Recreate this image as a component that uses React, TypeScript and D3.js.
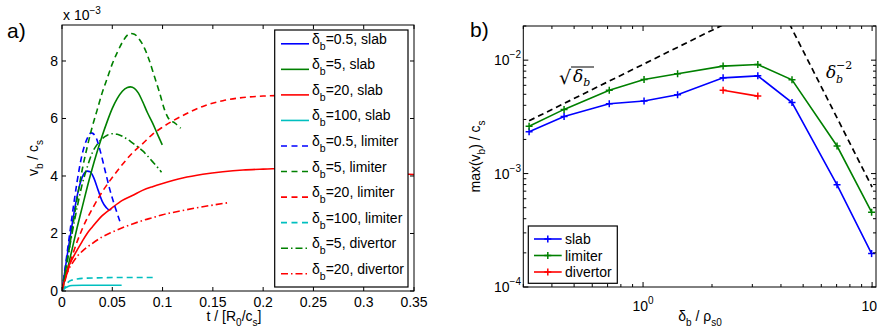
import React from "react";
import * as d3 from "d3";

// ---------- Panel a data (t in R0/cs, v in 1e-3 cs) ----------
const tBlueSlab = [0, 0.005, 0.01, 0.015, 0.02, 0.025, 0.028, 0.032, 0.036, 0.04, 0.044, 0.047, 0.049];
const vBlueSlab = [0, 1.2, 2.3, 3.3, 3.95, 4.17, 4.15, 3.9, 3.5, 3.12, 2.9, 2.82, 2.84];

const tGreenSlab = [0, 0.005, 0.01, 0.015, 0.02, 0.025, 0.03, 0.035, 0.04, 0.045, 0.05, 0.055, 0.06, 0.065, 0.068, 0.072, 0.076, 0.08, 0.085, 0.09, 0.095, 0.0997];
const vGreenSlab = [0, 0.7, 1.45, 2.2, 2.9, 3.6, 4.25, 4.85, 5.4, 5.9, 6.35, 6.7, 6.95, 7.08, 7.1, 7.05, 6.88, 6.6, 6.2, 5.85, 5.45, 5.08];

const tRedSlab = [0, 0.003, 0.006, 0.01, 0.015, 0.02, 0.025, 0.03, 0.04, 0.05, 0.06, 0.07, 0.08, 0.09, 0.1, 0.12, 0.14, 0.16, 0.18, 0.2, 0.22, 0.25, 0.28, 0.31, 0.35];
const vRedSlab = [0, 0.45, 0.8, 1.1, 1.42, 1.72, 2.0, 2.22, 2.62, 2.9, 3.15, 3.32, 3.5, 3.63, 3.74, 3.93, 4.06, 4.15, 4.21, 4.24, 4.26, 4.25, 4.2, 4.13, 4.05];

const tCyanSlab = [0, 0.003, 0.006, 0.01, 0.02, 0.04, 0.0593];
const vCyanSlab = [0, 0.1, 0.16, 0.19, 0.2, 0.2, 0.2];

const tBlueLim = [0, 0.005, 0.01, 0.015, 0.02, 0.025, 0.029, 0.033, 0.0378, 0.0427, 0.0477, 0.0527, 0.0577];
const vBlueLim = [0, 1.3, 2.6, 3.8, 4.75, 5.3, 5.5, 5.4, 4.9, 4.21, 3.51, 2.93, 2.41];

const tGreenLim = [0, 0.005, 0.01, 0.015, 0.02, 0.025, 0.03, 0.035, 0.04, 0.045, 0.05, 0.055, 0.06, 0.065, 0.068, 0.072, 0.077, 0.082, 0.087, 0.092, 0.097, 0.102, 0.107, 0.112, 0.118];
const vGreenLim = [0, 1.0, 2.1, 3.2, 4.2, 5.0, 5.7, 6.3, 6.9, 7.4, 7.9, 8.3, 8.65, 8.9, 8.96, 8.93, 8.75, 8.45, 8.0, 7.45, 6.9, 6.3, 5.95, 5.85, 5.66];

const tRedLim = [0, 0.005, 0.01, 0.02, 0.03, 0.04, 0.05, 0.06, 0.07, 0.08, 0.09, 0.1, 0.12, 0.14, 0.16, 0.18, 0.2, 0.22, 0.26];
const vRedLim = [0, 0.6, 1.2, 2.15, 2.85, 3.45, 3.95, 4.4, 4.8, 5.12, 5.45, 5.7, 6.1, 6.42, 6.62, 6.73, 6.78, 6.8, 6.82];

const tCyanLim = [0, 0.003, 0.006, 0.01, 0.015, 0.02, 0.04, 0.06, 0.0908];
const vCyanLim = [0, 0.15, 0.3, 0.38, 0.42, 0.44, 0.46, 0.47, 0.47];

const tGreenDiv = [0, 0.005, 0.01, 0.015, 0.02, 0.025, 0.03, 0.035, 0.04, 0.045, 0.05, 0.055, 0.06, 0.065, 0.07, 0.075, 0.08, 0.085, 0.09, 0.095, 0.099];
const vGreenDiv = [0, 1.0, 2.0, 2.9, 3.7, 4.3, 4.8, 5.1, 5.3, 5.42, 5.47, 5.45, 5.38, 5.28, 5.15, 5.02, 4.88, 4.7, 4.5, 4.3, 4.13];

const tRedDiv = [0, 0.003, 0.006, 0.01, 0.015, 0.02, 0.03, 0.04, 0.05, 0.06, 0.07, 0.08, 0.09, 0.1, 0.12, 0.14, 0.167];
const vRedDiv = [0, 0.4, 0.7, 0.95, 1.2, 1.38, 1.65, 1.88, 2.05, 2.2, 2.33, 2.45, 2.55, 2.65, 2.8, 2.93, 3.08];

const legendDeltaA = ["0.5", "5", "20", "100", "0.5", "5", "20", "100", "5", "20"];
const legendKindA = ["slab", "slab", "slab", "slab", "limiter", "limiter", "limiter", "limiter", "divertor", "divertor"];

const xTicksA = [0, 0.05, 0.1, 0.15, 0.2, 0.25, 0.3, 0.35];
const xTickLabelsA = ["0", "0.05", "0.1", "0.15", "0.2", "0.25", "0.3", "0.35"];
const yTicksA = [0, 2, 4, 6, 8];
const yTickLabelsA = ["0", "2", "4", "6", "8"];

// ---------- Panel b data ----------
const deltaB = [0.318, 0.452, 0.712, 1.01, 1.415, 2.236, 3.17, 4.47, 7.03, 9.95];
const slabMax = [2.34e-3, 3.19e-3, 4.13e-3, 4.36e-3, 4.95e-3, 6.98e-3, 7.27e-3, 4.23e-3, 7.96e-4, 1.97e-4];
const limiterMax = [2.61e-3, 3.68e-3, 5.43e-3, 6.75e-3, 7.58e-3, 8.86e-3, 9.15e-3, 6.71e-3, 1.75e-3, 4.57e-4];
const deltaDiv = [2.236, 3.17];
const divertorMax = [5.43e-3, 4.82e-3];

const sqrtRefX = [0.318, 2.3];
const sqrtRefY = [2.92e-3, 2.11e-2];
const steepRefX = [4.35, 10];
const steepRefY = [2.1e-2, 7.6e-4];

const yTicksB = [1e-4, 1e-3, 1e-2];
const yTickExpB = ["−4", "−3", "−2"];
const xTicksB = [1, 10];
const xTickExpB = ["0", "1"];
const legendB = ["slab", "limiter", "divertor"];

const FONT = "'Liberation Sans', Arial, Helvetica, sans-serif";
const BLUE = "#0000ff";
const GREEN = "#008000";
const RED = "#ff0000";
const CYAN = "#00bfbf";
const DASH = "6,4";
const DASHDOT = "7,3,1.5,3";

export default function App() {
  const W = 877, H = 334;
  // Panel a
  const A = { left: 62, right: 414, top: 25, bottom: 291 };
  const xA = d3.scaleLinear().domain([0, 0.35]).range([A.left, A.right]);
  const yA = d3.scaleLinear().domain([0, 9.252]).range([A.bottom, A.top]);
  const lineA = d3
    .line<[number, number]>()
    .x((d) => xA(d[0]))
    .y((d) => yA(d[1]))
    .curve(d3.curveMonotoneX);
  const zip = (t: number[], v: number[]) => t.map((ti, i) => [ti, v[i]] as [number, number]);

  const seriesA = [
    { t: tBlueSlab, v: vBlueSlab, c: BLUE, dash: undefined as string | undefined },
    { t: tGreenSlab, v: vGreenSlab, c: GREEN, dash: undefined },
    { t: tRedSlab, v: vRedSlab, c: RED, dash: undefined },
    { t: tCyanSlab, v: vCyanSlab, c: CYAN, dash: undefined },
    { t: tBlueLim, v: vBlueLim, c: BLUE, dash: DASH },
    { t: tGreenLim, v: vGreenLim, c: GREEN, dash: DASH },
    { t: tRedLim, v: vRedLim, c: RED, dash: DASH },
    { t: tCyanLim, v: vCyanLim, c: CYAN, dash: DASH },
    { t: tGreenDiv, v: vGreenDiv, c: GREEN, dash: DASHDOT },
    { t: tRedDiv, v: vRedDiv, c: RED, dash: DASHDOT },
  ];

  // Panel b
  const B = { left: 523.3, right: 876, top: 26, bottom: 287 };
  const xB = d3.scaleLog().domain([0.3, 10.4]).range([B.left, B.right]);
  const yB = d3.scaleLog().domain([1e-4, 2e-2]).range([B.bottom, B.top]);
  const lineB = d3
    .line<[number, number]>()
    .x((d) => xB(d[0]))
    .y((d) => yB(d[1]));

  const seriesB = [
    { x: deltaB, y: slabMax, c: BLUE },
    { x: deltaB, y: limiterMax, c: GREEN },
    { x: deltaDiv, y: divertorMax, c: RED },
  ];

  const yMinorB: number[] = [];
  for (const dec of [1e-4, 1e-3, 1e-2]) for (let k = 2; k <= 9; k++) if (dec * k <= 2e-2) yMinorB.push(dec * k);
  const xMinorB: number[] = [];
  for (const dec of [0.1, 1, 10]) for (let k = 1; k <= 9; k++) { const v = dec * k; if (v >= 0.3 && v <= 10.4 && k !== 1) xMinorB.push(v); }

  const legRowA = (i: number) => 43.8 + 25.55 * i;
  const plus = (cx: number, cy: number, c: string, key: string) => (
    <g key={key} stroke={c} strokeWidth={1.5}>
      <line x1={cx - 3.5} x2={cx + 3.5} y1={cy} y2={cy} />
      <line x1={cx} x2={cx} y1={cy - 3.5} y2={cy + 3.5} />
    </g>
  );

  return (
    <svg width={W} height={H} style={{ position: "absolute", left: 0, top: 0, background: "#fff" }} fontFamily={FONT}>
      <defs>
        <clipPath id="clipA"><rect x={A.left} y={A.top} width={A.right - A.left} height={A.bottom - A.top} /></clipPath>
        <clipPath id="clipB"><rect x={B.left} y={B.top} width={B.right - B.left} height={B.bottom - B.top} /></clipPath>
      </defs>
      <rect x={0} y={0} width={W} height={H} fill="#fff" />

      {/* ===== Panel a ===== */}
      <text x={7} y={38} fontSize={21}>a)</text>
      <g clipPath="url(#clipA)">
        {seriesA.map((s, i) => (
          <path key={i} d={lineA(zip(s.t, s.v)) || ""} fill="none" stroke={s.c} strokeWidth={1.6} strokeDasharray={s.dash} />
        ))}
      </g>
      {/* ticks */}
      {xTicksA.map((t, i) => (
        <g key={"xa" + i}>
          <line x1={xA(t)} x2={xA(t)} y1={A.bottom} y2={A.bottom - 4} stroke="#000" />
          <line x1={xA(t)} x2={xA(t)} y1={A.top} y2={A.top + 4} stroke="#000" />
          <text x={xA(t)} y={306.5} fontSize={14} textAnchor="middle">{xTickLabelsA[i]}</text>
        </g>
      ))}
      {yTicksA.map((v, i) => (
        <g key={"ya" + i}>
          <line x1={A.left} x2={A.left + 4} y1={yA(v)} y2={yA(v)} stroke="#000" />
          <line x1={A.right} x2={A.right - 4} y1={yA(v)} y2={yA(v)} stroke="#000" />
          <text x={58} y={yA(v) + 5} fontSize={14} textAnchor="end">{yTickLabelsA[i]}</text>
        </g>
      ))}
      <rect x={A.left} y={A.top} width={A.right - A.left} height={A.bottom - A.top} fill="none" stroke="#000" strokeWidth={1} />
      <text x={63} y={20} fontSize={14}>
        x 10<tspan dy={-6} fontSize={10}>−3</tspan>
      </text>
      <text transform={`translate(37.5,158) rotate(-90)`} fontSize={14} textAnchor="middle">
        v<tspan dy={5} fontSize={10}>b</tspan><tspan dy={-5}> / c</tspan><tspan dy={5} fontSize={10}>s</tspan>
      </text>
      <text x={234} y={321} fontSize={14} textAnchor="middle">
        t / [R<tspan dy={5} fontSize={10}>0</tspan><tspan dy={-5}>/c</tspan><tspan dy={5} fontSize={10}>s</tspan><tspan dy={-5}>]</tspan>
      </text>

      {/* legend a */}
      <rect x={274.7} y={30} width={133.3} height={257} fill="#fff" stroke="#000" strokeWidth={1.2} />
      {seriesA.map((s, i) => (
        <g key={"la" + i}>
          <line x1={281} x2={309} y1={legRowA(i)} y2={legRowA(i)} stroke={s.c} strokeWidth={1.6} strokeDasharray={s.dash ? (s.dash === DASH ? "6,4.5" : "7,3,1.5,3") : undefined} />
          <text x={312} y={legRowA(i)} fontSize={14}>
            δ<tspan dy={6} fontSize={10.5}>b</tspan><tspan dy={-6}>={legendDeltaA[i]}, {legendKindA[i]}</tspan>
          </text>
        </g>
      ))}

      {/* ===== Panel b ===== */}
      <text x={470} y={37} fontSize={21}>b)</text>
      <g clipPath="url(#clipB)">
        <path d={lineB(zip(sqrtRefX, sqrtRefY)) || ""} fill="none" stroke="#000" strokeWidth={1.7} strokeDasharray={DASH} />
        <path d={lineB(zip(steepRefX, steepRefY)) || ""} fill="none" stroke="#000" strokeWidth={1.7} strokeDasharray={DASH} />
        {seriesB.map((s, i) => (
          <g key={"sb" + i}>
            <path d={lineB(zip(s.x, s.y)) || ""} fill="none" stroke={s.c} strokeWidth={1.6} />
            {s.x.map((xv, j) => plus(xB(xv), yB(s.y[j]), s.c, `p${i}-${j}`))}
          </g>
        ))}
      </g>
      {/* reference labels */}
      <g fontFamily="'DejaVu Serif', 'Liberation Serif', serif" fontStyle="italic">
        <text x={559} y={84} fontSize={19} fontStyle="normal">√</text>
        <line x1={571} x2={594} y1={67} y2={67} stroke="#000" strokeWidth={1} />
        <text x={573} y={82} fontSize={17}>δ<tspan dy={4} fontSize={11}>b</tspan></text>
        <text x={826} y={78} fontSize={17}>δ</text>
        <text x={836} y={83} fontSize={11}>b</text>
        <text x={836} y={69} fontSize={11} fontStyle="normal">−2</text>
      </g>
      {/* ticks b */}
      {yTicksB.map((v, i) => (
        <g key={"yb" + i}>
          <line x1={B.left} x2={B.left + 5} y1={yB(v)} y2={yB(v)} stroke="#000" />
          <line x1={B.right} x2={B.right - 5} y1={yB(v)} y2={yB(v)} stroke="#000" />
          <text x={521} y={yB(v) + 5} fontSize={14} textAnchor="end">
            10<tspan dy={-7} fontSize={10}>{yTickExpB[i]}</tspan>
          </text>
        </g>
      ))}
      {yMinorB.map((v, i) => (
        <g key={"ybm" + i}>
          <line x1={B.left} x2={B.left + 3} y1={yB(v)} y2={yB(v)} stroke="#000" />
          <line x1={B.right} x2={B.right - 3} y1={yB(v)} y2={yB(v)} stroke="#000" />
        </g>
      ))}
      {xTicksB.map((v, i) => (
        <g key={"xb" + i}>
          <line x1={xB(v)} x2={xB(v)} y1={B.bottom} y2={B.bottom - 5} stroke="#000" />
          <line x1={xB(v)} x2={xB(v)} y1={B.top} y2={B.top + 5} stroke="#000" />
          <text x={xB(v)} y={311} fontSize={14} textAnchor="middle">
            10<tspan dy={-7} fontSize={10}>{xTickExpB[i]}</tspan>
          </text>
        </g>
      ))}
      {xMinorB.map((v, i) => (
        <g key={"xbm" + i}>
          <line x1={xB(v)} x2={xB(v)} y1={B.bottom} y2={B.bottom - 3} stroke="#000" />
          <line x1={xB(v)} x2={xB(v)} y1={B.top} y2={B.top + 3} stroke="#000" />
        </g>
      ))}
      <rect x={B.left} y={B.top} width={B.right - B.left} height={B.bottom - B.top} fill="none" stroke="#000" strokeWidth={1} />
      <text transform={`translate(480,156.5) rotate(-90)`} fontSize={14} textAnchor="middle">
        max(v<tspan dy={5} fontSize={10}>b</tspan><tspan dy={-5}>) / c</tspan><tspan dy={5} fontSize={10}>s</tspan>
      </text>
      <text x={700} y={321} fontSize={14} textAnchor="middle">
        δ<tspan dy={5} fontSize={10}>b</tspan><tspan dy={-5}> / ρ</tspan><tspan dy={5} fontSize={10}>s0</tspan>
      </text>

      {/* legend b */}
      <rect x={528.3} y={226} width={89} height={57.3} fill="#fff" stroke="#000" strokeWidth={1.2} />
      {legendB.map((lab, i) => {
        const cy = 239 + 16.5 * i;
        const c = seriesB[i].c;
        return (
          <g key={"lb" + i}>
            <line x1={534} x2={561.7} y1={cy} y2={cy} stroke={c} strokeWidth={1.6} />
            {plus(547.8, cy, c, "lp" + i)}
            <text x={565} y={cy + 5} fontSize={14}>{lab}</text>
          </g>
        );
      })}
    </svg>
  );
}
